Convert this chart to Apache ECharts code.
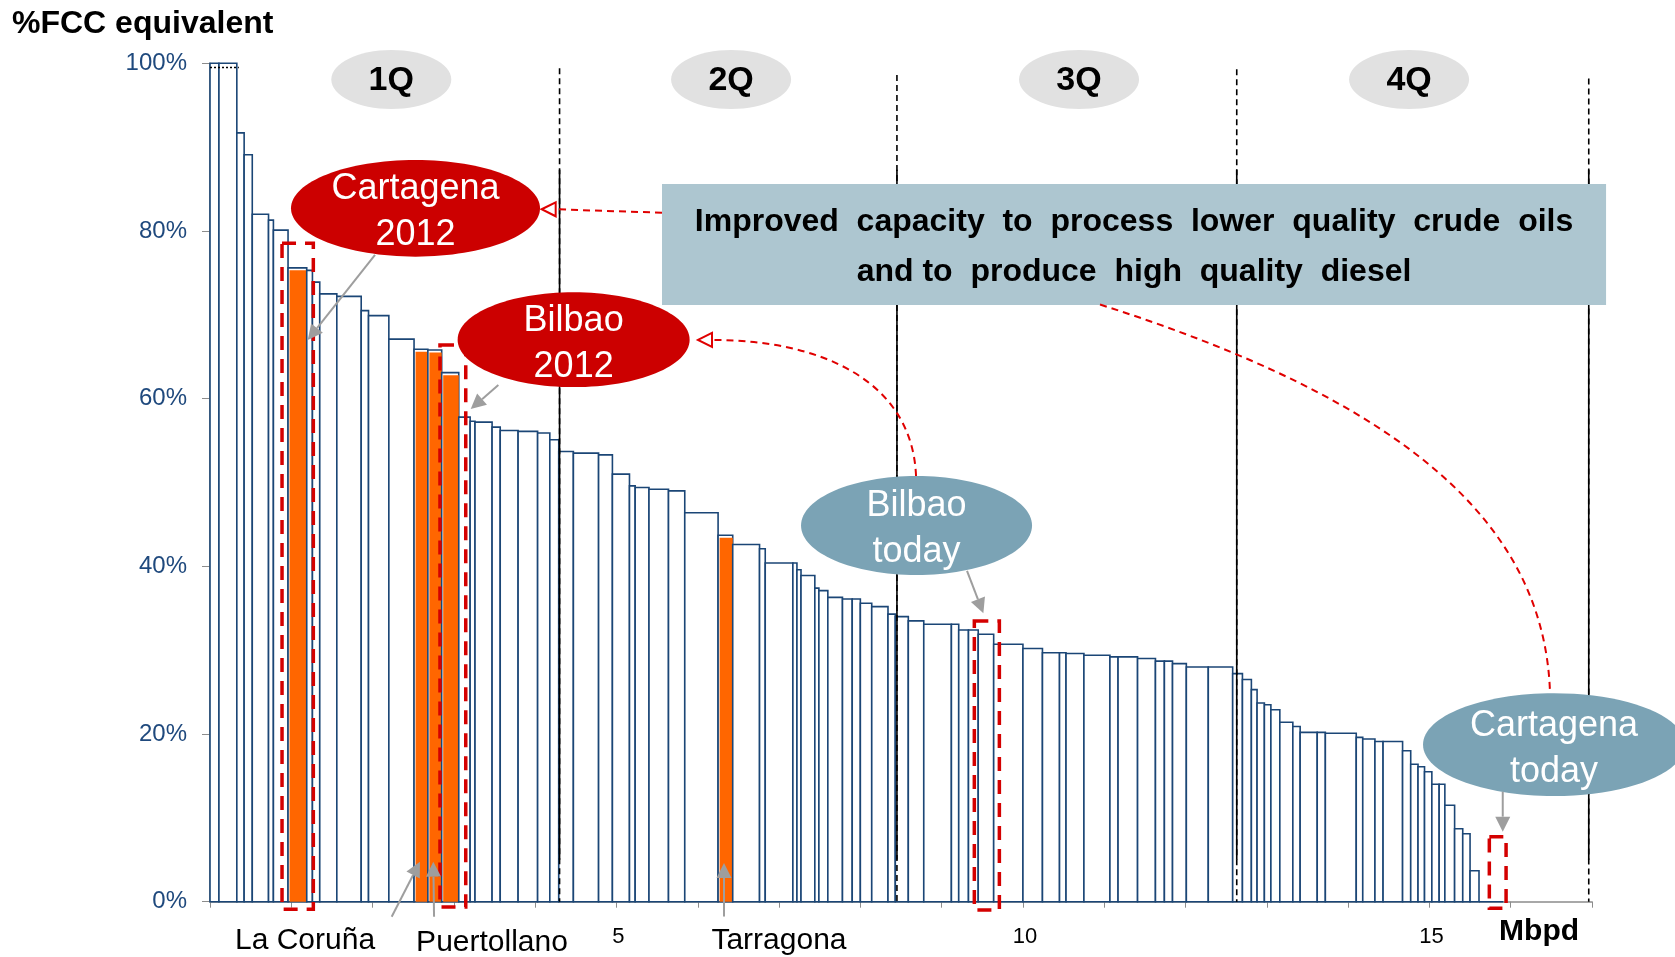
<!DOCTYPE html>
<html><head><meta charset="utf-8">
<script src="https://cdn.jsdelivr.net/npm/echarts/dist/echarts.min.js"></script>
<style>html,body{margin:0;padding:0;background:#fff}#c{width:1675px;height:957px}</style>
</head><body><div id="c"></div>
<script>
// Refinery capacity (Mbpd), sorted by FCC-equivalent conversion
const widths = [
0.11,0.22,0.09,0.10,0.20,0.06,0.18,0.23,0.07,0.09,
0.21,0.30,0.09,0.25,0.31,0.17,0.17,0.21,0.14,0.06,
0.21,0.10,0.22,0.24,0.15,0.11,0.18,0.31,0.17,0.21,
0.07,0.17,0.24,0.20,0.41,0.18,0.33,0.07,0.34,0.05,
0.05,0.17,0.05,0.11,0.18,0.12,0.10,0.14,0.20,0.09,
0.16,0.19,0.34,0.09,0.12,0.12,0.19,0.36,0.24,0.21,
0.08,0.22,0.32,0.10,0.24,0.22,0.11,0.10,0.17,0.27,
0.30,0.12,0.11,0.07,0.09,0.08,0.11,0.16,0.09,0.21,
0.10,0.38,0.08,0.15,0.10,0.24,0.10,0.09,0.08,0.09,
0.09,0.07,0.12,0.10,0.09,0.11,0.30
];
const fccPct = [
100,100,91.7,89.1,82.0,81.3,80.1,75.6,75.3,73.9,
72.5,72.2,70.5,69.9,67.1,65.9,65.8,63.1,57.8,57.3,
57.2,56.6,56.2,56.1,55.9,55.1,53.7,53.5,53.3,51.0,
49.6,49.4,49.2,49.0,46.4,43.7,42.6,42.1,40.4,40.4,
39.6,38.9,37.4,37.1,36.3,36.1,36.1,35.6,35.2,34.3,
34.0,33.5,33.1,33.1,32.4,32.4,31.9,30.7,30.2,29.7,
29.7,29.6,29.4,29.2,29.2,29.0,28.7,28.7,28.4,28.0,
28.0,27.2,26.5,25.3,23.7,23.5,22.9,21.4,20.9,20.2,
20.2,20.1,19.6,19.4,19.1,19.1,18.0,16.4,16.1,15.5,
14.0,14.0,11.5,8.7,8.1,3.7,0
];
const highlighted = [7,15,16,17,35]; // Repsol refineries (orange)
const quartileX = [4.30, 8.45, 12.63, 16.96];
const quartileTop = [99.4, 98.6, 99.3, 98.2];
const quartileLabels = ['1Q','2Q','3Q','4Q'];
const quartileLabelX = [2.23, 6.41, 10.69, 14.75];
const xTickLabels = [5,10,15];

let acc = 0;
const barData = widths.map((w,i)=>{const d=[acc, acc+w, fccPct[i], highlighted.includes(i)?1:0]; acc+=w; return d;});

const chart = echarts.init(document.getElementById('c'));
const FONT = '"Liberation Sans", Arial, sans-serif';

function renderItem(params, api){
  const x0=api.value(0), x1=api.value(1), v=api.value(2), hl=api.value(3);
  const a=api.coord([x0,v]), b=api.coord([x1,0]);
  const ch=[{type:'rect', shape:{x:a[0],y:a[1],width:b[0]-a[0],height:b[1]-a[1]},
    style:{fill:'#fff', stroke:'#1B4676', lineWidth:1.6}}];
  if(hl) ch.push({type:'rect', shape:{x:a[0]+1.5,y:a[1]+2.5,width:b[0]-a[0]-1.5,height:b[1]-a[1]-2.5},
    style:{fill:'#FF6600'}});
  return {type:'group', children:ch};
}

chart.setOption({
  animation:false,
  grid:{left:210, top:63.3, width:1382, height:838.4},
  xAxis:{type:'value', min:0, max:17, interval:1,
    axisLine:{lineStyle:{color:'#8C8C8C', width:1.5}},
    axisTick:{show:true, length:6, lineStyle:{color:'#8C8C8C'}},
    splitLine:{show:false},
    axisLabel:{margin:24, color:'#000', fontSize:22, fontFamily:FONT, padding:[0,0,0,4],
      formatter:v=>xTickLabels.includes(v)?String(v):''}},
  yAxis:{type:'value', min:0, max:100, interval:20,
    axisLine:{show:true, lineStyle:{color:'#8C8C8C', width:1.5}},
    axisTick:{show:true, length:8, lineStyle:{color:'#8C8C8C'}},
    splitLine:{show:false},
    axisLabel:{margin:23, color:'#1F497D', fontSize:24, fontFamily:FONT, padding:[5,0,0,0], formatter:'{value}%'}},
  series:[{type:'custom', renderItem, data:barData, encode:{x:[0,1], y:2}, clip:false, z:2}]
});

const P = (x,y)=>chart.convertToPixel({gridIndex:0},[x,y]);
const g = [];
function txt(x,y,text,font,fill,z,lh){
  g.push({type:'text', z:z||30, style:{x, y, text, font, fill, textAlign:'center', textVerticalAlign:'middle', align:'center', verticalAlign:'middle', lineHeight:lh||undefined}});
}
// quartile lines
quartileX.forEach((qx,i)=>{
  const t=P(qx,quartileTop[i]), b=P(qx,0), s1=P(qx,87.3), s2=P(qx,5.0);
  g.push({type:'line', z:5, shape:{x1:t[0],y1:t[1],x2:b[0],y2:b[1]}, style:{stroke:'#000', lineWidth:1.6, lineDash:[6,4]}});
  g.push({type:'line', z:5, shape:{x1:s1[0],y1:s1[1],x2:s2[0],y2:s2[1]}, style:{stroke:'#000', lineWidth:1.6}});
  const c=P(quartileLabelX[i],98.07);
  g.push({type:'ellipse', z:20, shape:{cx:c[0],cy:c[1],rx:60,ry:29.5}, style:{fill:'#E1E1E1'}});
  txt(c[0],c[1]+1,quartileLabels[i],'bold 34px '+FONT,'#000',21);
});
// dotted line at top of first bars
{const a=P(0,99.5), b=P(0.355,99.5);
 g.push({type:'line', z:6, shape:{x1:a[0],y1:a[1],x2:b[0],y2:b[1]}, style:{stroke:'#000', lineWidth:1.5, lineDash:[2,2]}});}

// Big box
{const a=P(5.56,85.6), b=P(17.173,71.17);
 g.push({type:'rect', z:12, shape:{x:a[0],y:a[1],width:b[0]-a[0],height:b[1]-a[1]}, style:{fill:'#ADC6D0'}});
 const cx=(a[0]+b[0])/2;
 txt(cx, a[1]+38, 'Improved  capacity  to  process  lower  quality  crude  oils', 'bold 32px '+FONT, '#000', 13);
 txt(cx, a[1]+88, 'and to  produce  high  quality  diesel', 'bold 32px '+FONT, '#000', 13);
}
// red dashed boxes
[[0.886,1.271,78.53,-0.91],[2.829,3.146,66.4,-0.63],[9.402,9.710,33.48,-0.99],[15.737,15.943,7.75,-0.79]].forEach(r=>{
  const a=P(r[0],r[2]), b=P(r[1],r[3]);
  g.push({type:'rect', z:8, shape:{x:a[0],y:a[1],width:b[0]-a[0],height:b[1]-a[1]}, style:{fill:'none', stroke:'#D40000', lineWidth:3.5, lineDash:[14,9]}});
});
// red dashed connectors
function redHead(tip){
  g.push({type:'polygon', z:16, shape:{points:[[tip[0],tip[1]],[tip[0]+14,tip[1]-7],[tip[0]+14,tip[1]+7]]}, style:{fill:'#fff', stroke:'#E00000', lineWidth:2}});
}
{const s=P(5.56,82.18), t=P(4.08,82.59);
 g.push({type:'line', z:15, shape:{x1:s[0],y1:s[1],x2:t[0]+14,y2:t[1]}, style:{stroke:'#E00000', lineWidth:2, lineDash:[7,5]}});
 redHead(t);}
{const p0=P(8.685,50.78), p1=P(8.636,62.23), p2=P(7.504,67.01), p3=P(6.003,67.01);
 g.push({type:'bezierCurve', z:15, shape:{x1:p0[0],y1:p0[1],cpx1:p1[0],cpy1:p1[1],cpx2:p2[0],cpy2:p2[1],x2:p3[0]+14,y2:p3[1]}, style:{stroke:'#E00000', fill:'none', lineWidth:2, lineDash:[7,5]}});
 redHead(p3);}
{const p0=P(10.948,71.23), p1=P(14.639,59.79), p2=P(16.423,45.48), p3=P(16.484,24.77);
 g.push({type:'bezierCurve', z:15, shape:{x1:p0[0],y1:p0[1],cpx1:p1[0],cpy1:p1[1],cpx2:p2[0],cpy2:p2[1],x2:p3[0],y2:p3[1]}, style:{stroke:'#E00000', fill:'none', lineWidth:2, lineDash:[7,5]}});}

// ellipses
function bubble(x,y,rx,ry,fill,text){
  const c=P(x,y);
  g.push({type:'ellipse', z:18, shape:{cx:c[0],cy:c[1],rx,ry}, style:{fill}});
  txt(c[0],c[1]+4,text,'36px '+FONT,'#fff',19,46);
}
bubble(2.528,82.70,124.5,48.3,'#CC0000','Cartagena\n2012');
bubble(4.473,67.03,116,47.4,'#CC0000','Bilbao\n2012');
bubble(8.691,44.87,115.5,49.5,'#7BA3B5','Bilbao\ntoday');
bubble(16.533,18.73,131,51.3,'#7BA3B5','Cartagena\ntoday');

// gray arrows
function grayArrow(x0,y0,x1,y1){
  const a=P(x0,y0), b=P(x1,y1);
  const dx=b[0]-a[0], dy=b[1]-a[1], L=Math.hypot(dx,dy), ux=dx/L, uy=dy/L;
  const hl=15, hw=7.5;
  const bx=b[0]-ux*hl, by=b[1]-uy*hl;
  g.push({type:'line', z:22, shape:{x1:a[0],y1:a[1],x2:bx,y2:by}, style:{stroke:'#9E9E9E', lineWidth:2}});
  g.push({type:'polygon', z:22, shape:{points:[[b[0],b[1]],[bx-uy*hw,by+ux*hw],[bx+uy*hw,by-ux*hw]]}, style:{fill:'#9E9E9E'}});
}
grayArrow(2.030,77.14,1.202,67.00);
grayArrow(3.547,61.63,3.207,58.77);
grayArrow(9.312,39.46,9.513,34.40);
grayArrow(15.902,13.12,15.902,8.35);
grayArrow(2.235,-1.79,2.583,4.77);
grayArrow(2.756,-1.79,2.747,4.77);
grayArrow(6.323,-1.77,6.323,4.62);

// bottom labels
{let c=P(1.169,-4.69); txt(c[0],c[1],'La Coruña','30px '+FONT,'#000',25);
 c=P(3.469,-4.93); txt(c[0],c[1],'Puertollano','30px '+FONT,'#000',25);
 c=P(6.999,-4.69); txt(c[0],c[1],'Tarragona','30px '+FONT,'#000',25);
 c=P(16.349,-3.49); txt(c[0],c[1]+1,'Mbpd','bold 30px '+FONT,'#000',25);}
// title
g.push({type:'text', z:30, style:{x:12, y:24, text:'%FCC equivalent', font:'bold 32px '+FONT, fill:'#000', textAlign:'left', textVerticalAlign:'middle', align:'left', verticalAlign:'middle'}});

chart.setOption({graphic:{elements:g}});
</script></body></html>
